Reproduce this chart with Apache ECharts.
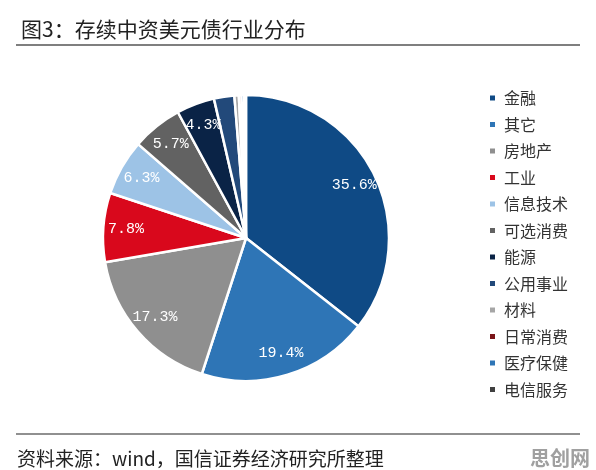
<!DOCTYPE html>
<html><head><meta charset="utf-8">
<script src="https://cdn.jsdelivr.net/npm/echarts@6/dist/echarts.min.js"></script>
<style>html,body{margin:0;padding:0;background:#fff}#c{width:596px;height:470px}</style>
</head><body><div id="c"></div>
<script>
var categories = ['金融','其它','房地产','工业','信息技术','可选消费','能源','公用事业','材料','日常消费','医疗保健','电信服务'];
var values = [35.6, 19.4, 17.3, 7.8, 6.3, 5.7, 4.3, 2.3, 0.5, 0.3, 0.3, 0.2];
var colors = ['#0f4a85','#2e75b6','#8f8f8f','#d9081c','#9dc3e6','#626262','#0a2346','#22497a','#a6a6a6','#7a1418','#2e75b6','#404040'];
var labelMin = 4;

var chart = echarts.init(document.getElementById('c'));
var data = categories.map(function(n,i){ return {name:n, value:values[i], itemStyle:{color:colors[i]}}; });
var labelData = categories.map(function(n,i){ return {name:n, value:values[i], label:{show: values[i] >= labelMin}}; });
var R = 143;
chart.setOption({
  backgroundColor:'#ffffff',
  animation:false,
  title:{text:'图3：存续中资美元债行业分布', left:16, top:14, textStyle:{fontFamily:'Noto Sans CJK SC', fontSize:21, fontWeight:'normal', color:'#222'}},
  legend:{
    orient:'vertical', left:483, top:85, icon:'rect', itemWidth:7, itemHeight:7, itemGap:10.5,
    textStyle:{fontFamily:'Noto Sans CJK SC', fontSize:16, color:'#333', lineHeight:16, padding:[0,0,0,3]},
    data:categories
  },
  series:[
    {type:'pie', center:[246,238], radius:[0,R], startAngle:90, clockwise:true, avoidLabelOverlap:false,
     itemStyle:{borderColor:'#fff', borderWidth:2.5}, label:{show:false}, labelLine:{show:false}, data:data},
    {type:'pie', center:[246,238], radius:[R*0.64,R], startAngle:90, clockwise:true, silent:true, avoidLabelOverlap:false,
     itemStyle:{color:'rgba(0,0,0,0)', borderWidth:0}, legendHoverLink:false,
     label:{position:'inside', formatter:function(p){return p.value.toFixed(1)+'%';}, color:'#fff', fontFamily:'Liberation Mono', fontSize:15},
     labelLine:{show:false}, data:labelData, tooltip:{show:false}}
  ],
  graphic:[
    {type:'line', shape:{x1:16,y1:45,x2:580,y2:45}, style:{stroke:'#555', lineWidth:1.5}},
    {type:'line', shape:{x1:16,y1:434,x2:580,y2:434}, style:{stroke:'#222', lineWidth:1.2}},
    {type:'text', left:17, top:449, style:{text:'资料来源：wind，国信证券经济研究所整理', font:'19px "Noto Sans CJK SC"', fill:'#222'}},
    {type:'text', left:530, top:448, style:{text:'思创网', font:'bold 20px "Noto Sans CJK SC"', fill:'#a0a0a0'}}
  ]
});
</script></body></html>
